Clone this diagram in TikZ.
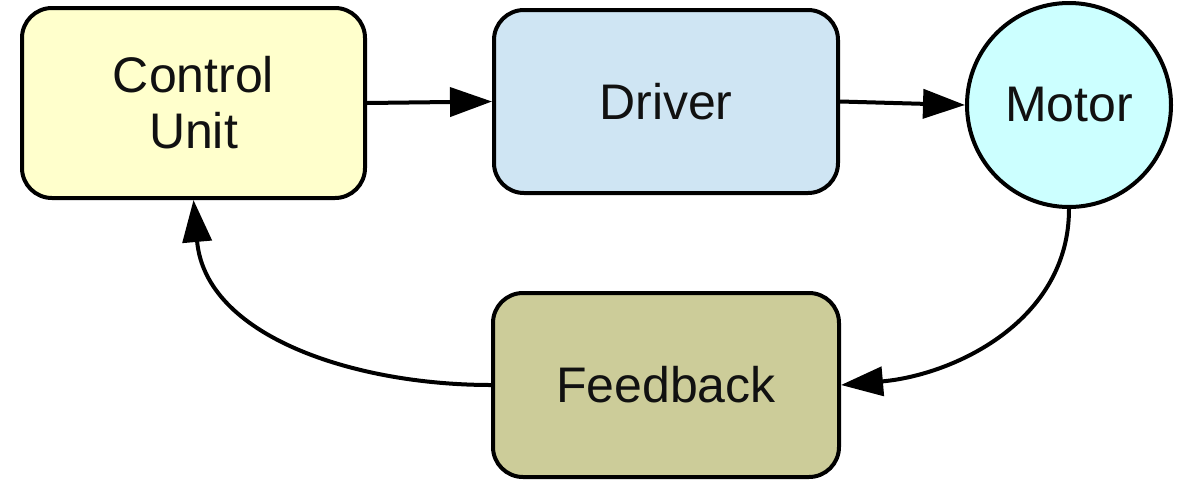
\documentclass[tikz,border=0pt]{standalone}
\usepackage{fontspec}
\setmainfont{Liberation Sans}
\usetikzlibrary{arrows.meta}
\definecolor{cuY}{HTML}{FFFFCC}
\definecolor{drB}{HTML}{CFE5F3}
\definecolor{moC}{HTML}{CCFFFF}
\definecolor{fbK}{HTML}{CCCC99}
\definecolor{txt}{HTML}{111111}
\tikzset{
  box/.style={draw=black, line width=4pt, rounded corners=30pt, inner sep=0pt,
    align=center, text=txt, font=\fontsize{50}{56}\selectfont},
  roundnode/.style={draw=black, line width=4pt, circle, inner sep=0pt,
    align=center, text=txt, font=\fontsize{50}{56}\selectfont},
  conn/.style={line width=4pt, -{Triangle[length=42pt,width=29pt]}}
}
\begin{document}
\begin{tikzpicture}[x=1pt,y=-1pt]
\useasboundingbox (0,0) rectangle (1181,480);
\node[box, fill=cuY, minimum width=343pt, minimum height=190pt] (cu) at (193.5,103) {Control\\Unit};
\node[box, fill=drB, minimum width=344pt, minimum height=183pt] (dr) at (666,101.5) {Driver};
\node[roundnode, fill=moC, minimum size=204pt] (mo) at (1069,105) {Motor};
\node[box, fill=fbK, minimum width=346pt, minimum height=184pt] (fb) at (666,385) {Feedback};
\draw[conn] (cu.east) -- (dr.west);
\draw[conn] (dr.east) -- (mo.west);
\draw[conn] (mo.south) to[out=-90,in=5] (fb.east);
\draw[conn] (fb.west) to[out=180,in=-85] (cu.south);
\end{tikzpicture}
\end{document}
